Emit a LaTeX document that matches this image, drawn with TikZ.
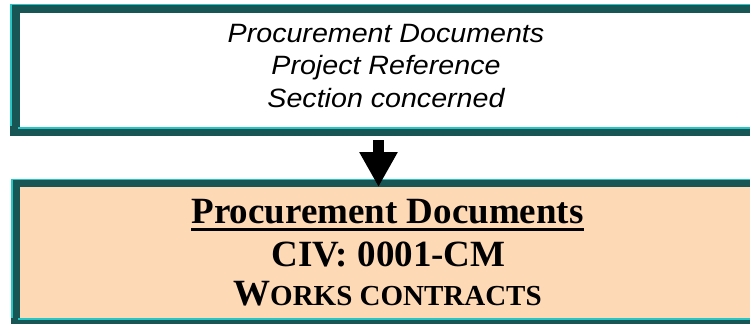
\documentclass[tikz,border=0pt]{standalone}
\usepackage{fontspec}
\usetikzlibrary{arrows.meta}
\newfontfamily\boxafont[FakeStretch=1.08]{Liberation Sans}
\newfontfamily\boxbfont{Liberation Serif}
\definecolor{framedark}{RGB}{24,85,85}
\definecolor{framelight}{RGB}{38,198,198}
\definecolor{peachfill}{RGB}{254,217,181}
\tikzset{
  itline/.style={anchor=base, inner sep=0pt, font=\boxafont\itshape\fontsize{26.5}{32}\selectfont},
  bdline/.style={anchor=base, inner sep=0pt, font=\boxbfont\bfseries\fontsize{37}{40}\selectfont},
  blockarrow/.style={line width=11pt, -{Triangle[width=36pt,length=35pt]}},
}
\begin{document}
\begin{tikzpicture}[x=1pt,y=-1pt]
\useasboundingbox (0,0) rectangle (750,324);
\clip (0,0) rectangle (750,324);
% top box frame
\fill[framedark] (10,4) rectangle (760,136);
\fill[white] (20,13) rectangle (760,127);
\fill[framelight] (10,4) rectangle (760,5.3);
\fill[framelight] (10,4) rectangle (12,126);
\fill[framelight] (18,127) rectangle (760,129);
% bottom box frame
\fill[framedark] (11,179) rectangle (760,330);
\fill[peachfill] (20,187) rectangle (760,318);
\fill[framelight] (11,179) rectangle (760,180.3);
\fill[framelight] (11,179) rectangle (13,318);
\fill[framelight] (18,318) rectangle (760,320);
% top texts
\node[itline] (t1a) at (386,42) {Procurement Documents};
\node[itline] (t1b) at (386,74.5) {Project Reference};
\node[itline] (t1c) at (386,107) {Section concerned};
% bottom texts
\node[bdline] (t2a) at (387.5,223) {Procurement Documents};
\draw[line width=3pt] ([yshift=-6pt]t2a.base west) -- ([yshift=-6pt]t2a.base east);
\node[bdline] (t2b) at (388.5,266) {CIV: 0001-CM};
\node[bdline] (t2c) at (387.5,305) {W{\fontsize{29}{40}\selectfont ORKS CONTRACTS}};
% arrow
\coordinate (arrowstart) at (378.5,140);
\coordinate (arrowend) at (378.5,187);
\draw[blockarrow] (arrowstart) -- (arrowend);
\end{tikzpicture}
\end{document}
